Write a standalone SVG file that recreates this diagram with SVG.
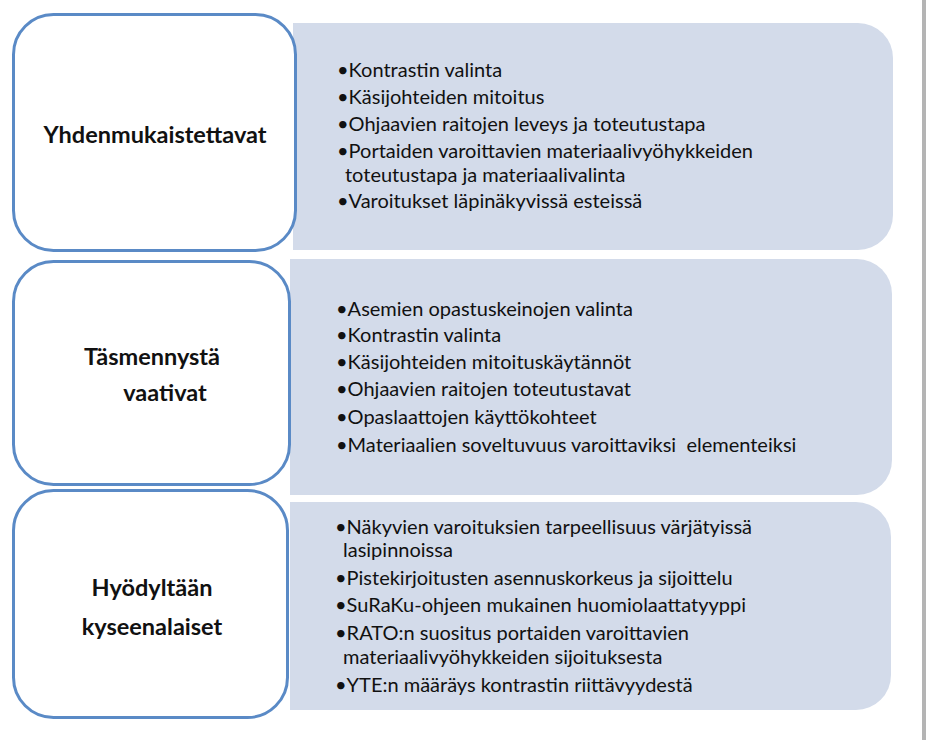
<svg xmlns="http://www.w3.org/2000/svg" width="928" height="740" viewBox="0 0 928 740">
<style>
.panel{fill:#d3dbea}
.box{fill:#ffffff;stroke:#5a8ac6;stroke-width:3}
.hd{font-family:Lato,"Liberation Sans",sans-serif;font-weight:bold;font-size:23.5px;fill:#111;text-anchor:middle}
.it{font-family:Lato,"Liberation Sans",sans-serif;font-size:20px;fill:#111;white-space:pre}
</style>
<rect x="0" y="0" width="928" height="740" fill="#ffffff"/>
<rect x="922" y="0" width="4" height="740" fill="#b4b4b4"/>
<g id="connectors"></g>
<g id="panel1">
<path class="panel" d="M293,23 H858 A35,35 0 0 1 893,58 V215 A35,35 0 0 1 858,250 H293 Z"/>
<text class="it" x="337" y="77">•Kontrastin valinta</text>
<text class="it" x="337" y="104">•Käsijohteiden mitoitus</text>
<text class="it" x="337" y="131">•Ohjaavien raitojen leveys ja toteutustapa</text>
<text class="it" x="337" y="158">•Portaiden varoittavien materiaalivyöhykkeiden</text>
<text class="it" x="345" y="182">toteutustapa ja materiaalivalinta</text>
<text class="it" x="337" y="208">•Varoitukset läpinäkyvissä esteissä</text>
</g>
<g id="panel2">
<path class="panel" d="M290,259 H857 A35,35 0 0 1 892,294 V460 A35,35 0 0 1 857,495 H290 Z"/>
<text class="it" x="336" y="316">•Asemien opastuskeinojen valinta</text>
<text class="it" x="336" y="342">•Kontrastin valinta</text>
<text class="it" x="336" y="369">•Käsijohteiden mitoituskäytännöt</text>
<text class="it" x="336" y="396">•Ohjaavien raitojen toteutustavat</text>
<text class="it" x="336" y="424">•Opaslaattojen käyttökohteet</text>
<text class="it" x="336" y="452" xml:space="preserve">•Materiaalien soveltuvuus varoittaviksi  elementeiksi</text>
</g>
<g id="panel3">
<path class="panel" d="M290,502 H856 A35,35 0 0 1 891,537 V675 A35,35 0 0 1 856,710 H290 Z"/>
<text class="it" x="335" y="534">•Näkyvien varoituksien tarpeellisuus värjätyissä</text>
<text class="it" x="343" y="557">lasipinnoissa</text>
<text class="it" x="335" y="585">•Pistekirjoitusten asennuskorkeus ja sijoittelu</text>
<text class="it" x="335" y="612">•SuRaKu-ohjeen mukainen huomiolaattatyyppi</text>
<text class="it" x="335" y="640">•RATO:n suositus portaiden varoittavien</text>
<text class="it" x="343" y="664">materiaalivyöhykkeiden sijoituksesta</text>
<text class="it" x="335" y="692">•YTE:n määräys kontrastin riittävyydestä</text>
</g>
<g id="box1">
<rect class="box" x="13.5" y="14.5" width="282" height="236" rx="40"/>
<text class="hd" x="155" y="143">Yhdenmukaistettavat</text>
</g>
<g id="box2">
<rect class="box" x="13.5" y="261.5" width="276" height="223" rx="40"/>
<text class="hd" x="152" y="365">Täsmennystä</text>
<text class="hd" x="165" y="401">vaativat</text>
</g>
<g id="box3">
<rect class="box" x="13.5" y="490.5" width="274" height="227" rx="40"/>
<text class="hd" x="152" y="596">Hyödyltään</text>
<text class="hd" x="152" y="635">kyseenalaiset</text>
</g>
</svg>
